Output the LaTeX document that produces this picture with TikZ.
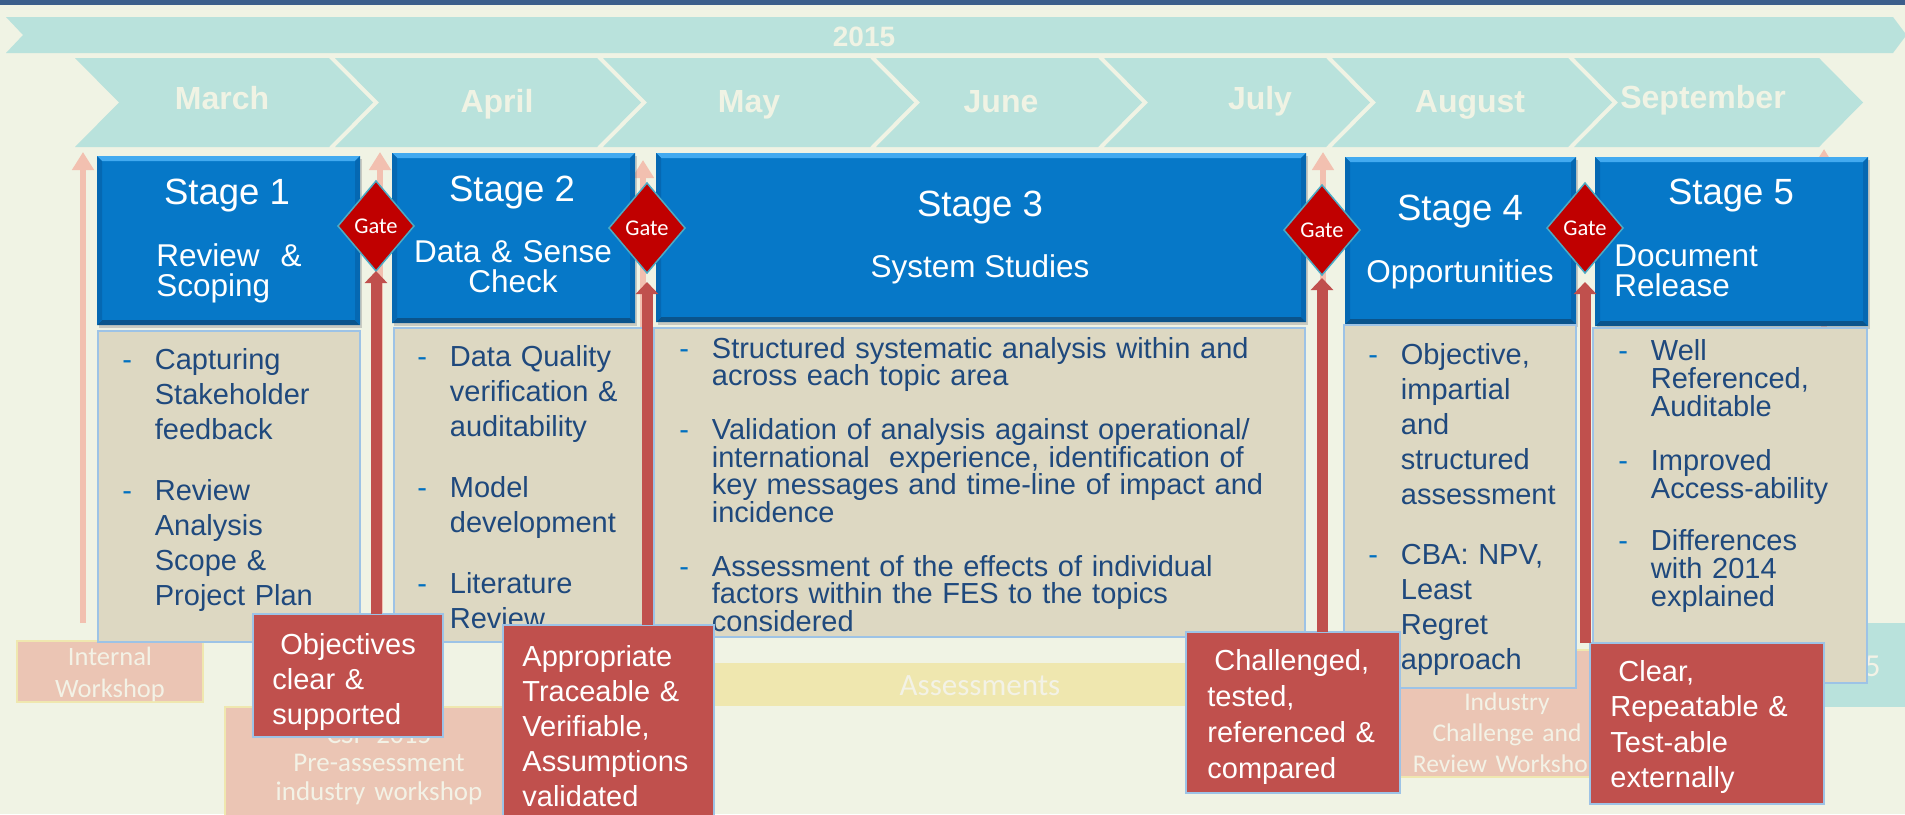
\documentclass[tikz,border=0pt]{standalone}
\usepackage{fontspec}
\setmainfont{Liberation Sans}
\newfontfamily\carl{Carlito}
\usetikzlibrary{shapes.geometric,arrows.meta,shadows}
\definecolor{bgc}{RGB}{240,243,228}
\definecolor{topband}{RGB}{59,94,139}
\definecolor{tealc}{RGB}{185,226,220}
\definecolor{creamt}{RGB}{240,243,228}
\definecolor{stageblue}{RGB}{6,120,200}
\definecolor{bevlight}{RGB}{66,170,240}
\definecolor{bevdark}{RGB}{10,84,140}
\definecolor{bevside}{RGB}{5,104,178}
\definecolor{gatered}{RGB}{192,0,0}
\definecolor{gateedge}{RGB}{75,172,198}
\definecolor{tanc}{RGB}{221,216,194}
\definecolor{edgeblue}{RGB}{157,195,230}
\definecolor{bodytext}{RGB}{31,73,125}
\definecolor{dashc}{RGB}{0,112,192}
\definecolor{labred}{RGB}{192,80,77}
\definecolor{palepink}{RGB}{242,192,176}
\definecolor{salmon}{RGB}{235,197,180}
\definecolor{paleyel}{RGB}{239,231,175}
\definecolor{wstext}{RGB}{243,242,230}
\newlength\dind \setlength\dind{16.25pt}
\newcommand\dl{\makebox[\dind][l]{\textcolor{dashc}{-}}}
\newcommand\ct{\hspace*{\dind}}
\newcommand\placebox[6]{%
  \pgfmathsetmacro\bw{(#5-#3)*0.5}%
  \pgfmathsetmacro\bh{(#6-#4)*0.5}%
  \node[#1, minimum width=\bw pt, minimum height=\bh pt, anchor=north west] (#2) at (#3,#4) {};}
\newcommand\chev[2]{\fill[tealc] (#1,58) -- (#2,58) -- (#2+44,102.5) -- (#2,147) -- (#1,147) -- (#1+44,102.5) -- cycle;}
\begin{document}
\begin{tikzpicture}[x=0.5pt,y=-0.5pt,
  stagebox/.style={rectangle, fill=stageblue, inner sep=0, outer sep=0,
    drop shadow={shadow xshift=1pt, shadow yshift=-1.5pt, opacity=0.35},
    path picture={
      \fill[bevlight] (path picture bounding box.north west) -- (path picture bounding box.north east)
        -- ([xshift=-2.5pt,yshift=-2.5pt]path picture bounding box.north east)
        -- ([xshift=2.5pt,yshift=-2.5pt]path picture bounding box.north west) -- cycle;
      \fill[bevdark] (path picture bounding box.south west) -- (path picture bounding box.south east)
        -- ([xshift=-2.5pt,yshift=2.5pt]path picture bounding box.south east)
        -- ([xshift=2.5pt,yshift=2.5pt]path picture bounding box.south west) -- cycle;
      \fill[bevside] (path picture bounding box.north east) -- (path picture bounding box.south east)
        -- ([xshift=-2.5pt,yshift=2.5pt]path picture bounding box.south east)
        -- ([xshift=-2.5pt,yshift=-2.5pt]path picture bounding box.north east) -- cycle;
      \fill[bevside] (path picture bounding box.north west) -- (path picture bounding box.south west)
        -- ([xshift=2.5pt,yshift=2.5pt]path picture bounding box.south west)
        -- ([xshift=2.5pt,yshift=-2.5pt]path picture bounding box.north west) -- cycle;
    }},
  tanbox/.style={rectangle, fill=tanc, draw=edgeblue, line width=1pt, inner sep=0, outer sep=0},
  redbox/.style={rectangle, fill=labred, draw=edgeblue, line width=1pt, inner sep=0, outer sep=0},
  wsbox/.style={rectangle, fill=salmon, draw=paleyel, line width=1pt, inner sep=0, outer sep=0},
  assessbox/.style={rectangle, fill=paleyel, inner sep=0, outer sep=0},
  tealbox/.style={rectangle, fill=tealc, inner sep=0, outer sep=0},
  gate/.style={diamond, fill=gatered, draw=gateedge, line width=0.75pt, minimum width=38pt,
    minimum height=45pt, inner sep=0, outer sep=0, text=white, font=\carl\fontsize{11.25}{13}\selectfont},
  redarrow/.style={draw=labred, line width=5.5pt, -{Triangle[width=11pt,length=6pt]}},
  palearrow/.style={draw=palepink, line width=3pt, -{Triangle[width=10.5pt,length=9pt]}},
  month/.style={text=creamt, font=\bfseries\fontsize{16}{19}\selectfont, inner sep=0, anchor=base},
  stitle/.style={text=white, font=\fontsize{18.25}{22}\selectfont, inner sep=0, anchor=base},
  ssub/.style={text=white, font=\fontsize{15.75}{15}\selectfont, inner sep=0},
  body/.style={text=bodytext, inner sep=0, anchor=base west, align=left, text width=300pt},
  redtext/.style={text=white, inner sep=0, anchor=base west, align=left, text width=200pt},
  wst/.style={text=wstext, inner sep=0, anchor=base, align=center, text width=160pt}
]
\useasboundingbox (0,0) rectangle (1905,814);
\fill[bgc] (0,0) rectangle (1905,814);
\fill[topband] (0,0) rectangle (1905,4.5);
% year bar
\fill[tealc] (6,17) -- (1893,17) -- (1905,33) -- (1905,37) -- (1893,53) -- (6,53) -- (23,35) -- cycle;
\node[text=creamt, font=\bfseries\fontsize{14}{16}\selectfont, inner sep=0, anchor=base] (yr) at (864,46) {2015};
% month chevrons
\chev{75}{329}
\chev{335}{597}
\chev{603}{870}
\chev{876}{1098}
\chev{1104}{1326}
\chev{1332}{1568}
\chev{1574}{1819}
\node[month] (m1) at (222,109) {March};
\node[month] (m2) at (497,112) {April};
\node[month] (m3) at (749,112) {May};
\node[month] (m4) at (1001,112) {June};
\node[month] (m5) at (1260,109) {July};
\node[month] (m6) at (1470,112) {August};
\node[month] (m7) at (1703,108) {September};
% background workshops
\placebox{wsbox}{iw}{17}{641}{203}{702}
\node[wst, font=\carl\fontsize{13.25}{16}\selectfont] (iwt) at (110,665) {Internal\\Workshop};
\placebox{wsbox}{csp}{225}{707}{510}{818}
\node[wst, font=\carl\fontsize{13.5}{14.25}\selectfont] (cspt) at (379,743) {CSP 2015\\Pre-assessment\\industry workshop};
\placebox{assessbox}{as}{715}{663}{1245}{706}
\node[wst, font=\carl\fontsize{15.5}{17}\selectfont] (ast) at (980,695) {Assessments};
\placebox{wsbox}{icr}{1398}{650}{1616}{777}
\node[wst, font=\carl\fontsize{12.75}{15.5}\selectfont] (icrt) at (1507,710) {Industry\\Challenge and\\Review Workshop};
\placebox{tealbox}{tb}{1650}{623}{1905}{707}
\node[text=wstext, font=\carl\fontsize{16}{18}\selectfont, inner sep=0, anchor=base east] (tbt) at (1881,676) {5};
% pale arrows
\coordinate (p1a) at (83,623);  \coordinate (p1b) at (83,152);
\coordinate (p2a) at (380,700); \coordinate (p2b) at (380,152);
\coordinate (p3a) at (643,700); \coordinate (p3b) at (643,160);
\coordinate (p4a) at (1323,700); \coordinate (p4b) at (1323,152);
\coordinate (p5a) at (1824,640); \coordinate (p5b) at (1824,149);
\draw[palearrow] (p1a) -- (p1b);
\draw[palearrow] (p2a) -- (p2b);
\draw[palearrow] (p3a) -- (p3b);
\draw[palearrow] (p4a) -- (p4b);
\draw[palearrow] (p5a) -- (p5b);
% stage boxes
\placebox{stagebox}{s1}{97}{156}{360}{325}
\placebox{stagebox}{s2}{392}{153}{635}{323}
\placebox{stagebox}{s3}{656}{153}{1306}{322}
\placebox{stagebox}{s4}{1345}{157}{1576}{324}
\placebox{stagebox}{s5}{1595}{157}{1868}{326}
\node[stitle] (t1) at (227,204) {Stage 1};
\node[ssub, anchor=base west, align=left, text width=150pt] (u1) at (156,266) {Review\ \ \&\\Scoping};
\node[stitle] (t2) at (512,201) {Stage 2};
\node[ssub, anchor=base, align=center, text width=150pt] (u2) at (513,262) {Data \& Sense\\Check};
\node[stitle] (t3) at (980,216) {Stage 3};
\node[ssub, anchor=base] (u3) at (980,277) {System Studies};
\node[stitle] (t4) at (1460,220) {Stage 4};
\node[ssub, anchor=base] (u4) at (1460,282) {Opportunities};
\node[stitle] (t5) at (1731,204) {Stage 5};
\node[ssub, anchor=base west, align=left, text width=150pt] (u5) at (1614,266) {Document\\Release};
% tan boxes
\placebox{tanbox}{b1}{98}{331}{360}{642}
\placebox{tanbox}{b2}{394}{328}{643}{642}
\placebox{tanbox}{b3}{654}{328}{1305}{637}
\placebox{tanbox}{b4}{1344}{325}{1576}{688}
\placebox{tanbox}{b5}{1593}{328}{1867}{683}
\node[body, font=\fontsize{14.5}{17.5}\selectfont] (c1) at (122,369)
  {\dl Capturing\\\ct Stakeholder\\\ct feedback\\[13pt]\dl Review\\\ct Analysis\\\ct Scope \&\\\ct Project Plan};
\node[body, font=\fontsize{14.5}{17.5}\selectfont] (c2) at (417,366)
  {\dl Data Quality\\\ct verification \&\\\ct auditability\\[13pt]\dl Model\\\ct development\\[13pt]\dl Literature\\\ct Review};
\node[body, font=\fontsize{14.5}{13.75}\selectfont] (c3) at (679,358)
  {\dl Structured systematic analysis within and\\\ct across each topic area\\[13.25pt]\dl Validation of analysis against operational/\\\ct international\ \ experience, identification of\\\ct key messages and time-line of impact and\\\ct incidence\\[13.25pt]\dl Assessment of the effects of individual\\\ct factors within the FES to the topics\\\ct considered};
\node[body, font=\fontsize{14.5}{17.5}\selectfont] (c4) at (1368,364)
  {\dl Objective,\\\ct impartial\\\ct and\\\ct structured\\\ct assessment\\[12.5pt]\dl CBA: NPV,\\\ct Least\\\ct Regret\\\ct approach};
\node[body, font=\fontsize{14.5}{14}\selectfont] (c5) at (1618,360)
  {\dl Well\\\ct Referenced,\\\ct Auditable\\[13pt]\dl Improved\\\ct Access-ability\\[12pt]\dl Differences\\\ct with 2014\\\ct explained};
% gates
\node[gate] (g1) at (376,226) {Gate};
\node[gate] (g2) at (647,228) {Gate};
\node[gate] (g3) at (1322,230) {Gate};
\node[gate] (g4) at (1585,228) {Gate};
% red label boxes
\placebox{redbox}{r1}{253}{614}{443}{737}
\placebox{redbox}{r2}{503}{625}{714}{818}
\placebox{redbox}{r3}{1186}{632}{1400}{793}
\placebox{redbox}{r4}{1590}{643}{1824}{804}
% red arrows
\draw[redarrow] (r1.north -| g1.south) -- (g1.south);
\draw[redarrow, shorten >=4.5pt] (r2.north -| g2.south) -- (g2.south);
\draw[redarrow, shorten >=1.5pt] (r3.north -| g3.south) -- (g3.south);
\draw[redarrow, shorten >=4.5pt] (r4.north -| g4.south) -- (g4.south);
\node[redtext, font=\fontsize{14.5}{17.5}\selectfont] (rt1) at (272,654) {\hspace*{4pt}Objectives\\clear \&\\supported};
\node[redtext, font=\fontsize{14.5}{17.5}\selectfont] (rt2) at (522,666) {Appropriate\\Traceable \&\\Verifiable,\\Assumptions\\validated};
\node[redtext, font=\fontsize{14.5}{18}\selectfont] (rt3) at (1207,670) {\hspace*{3.5pt}Challenged,\\tested,\\referenced \&\\compared};
\node[redtext, font=\fontsize{14.5}{17.75}\selectfont] (rt4) at (1610,681) {\hspace*{4pt}Clear,\\Repeatable \&\\Test-able\\externally};
\end{tikzpicture}
\end{document}
